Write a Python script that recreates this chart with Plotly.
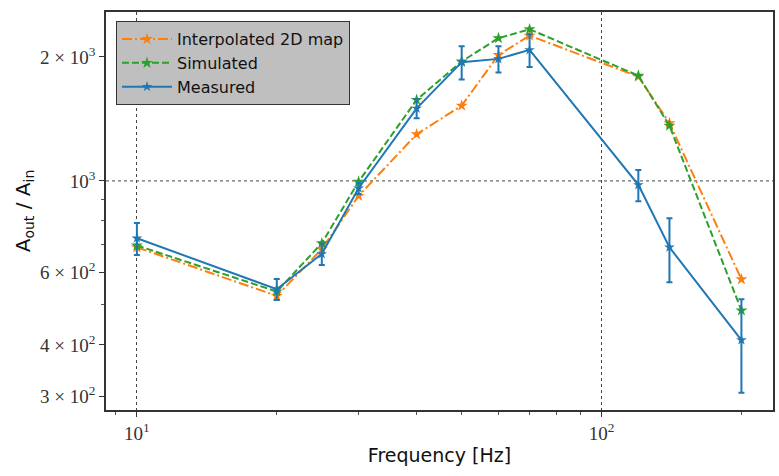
import plotly.graph_objects as go

freq = [10, 20, 25, 30, 40, 50, 60, 70, 120, 140, 200]
measured = [726, 546, 665, 960, 1500, 1942, 1978, 2080, 978, 690, 411]
measured_err = [65, 32, 40, 30, 80, 180, 145, 190, 85, 122, 105]
simulated = [697, 539, 706, 996, 1573, 1950, 2221, 2334, 1801, 1362, 485]
interpolated = [690, 526, 683, 920, 1298, 1523, 2021, 2252, 1791, 1381, 577]

x_major = [10, 100]
x_major_text = ["10<sup>1</sup>", "10<sup>2</sup>"]
x_minor = [9, 20, 30, 40, 50, 60, 70, 80, 90, 200]
y_major = [300, 400, 600, 1000, 2000]
y_major_text = ["3 × 10<sup>2</sup>", "4 × 10<sup>2</sup>", "6 × 10<sup>2</sup>",
                "10<sup>3</sup>", "2 × 10<sup>3</sup>"]
y_minor = [500, 700, 800, 900]
y_grid = [1000]

BLUE, ORANGE, GREEN = "#1f77b4", "#ff7f0e", "#2ca02c"

fig = go.Figure()
fig.add_trace(go.Scatter(x=freq, y=interpolated, name="Interpolated 2D map", mode="lines+markers",
                         line=dict(color=ORANGE, width=2, dash="10px,3px,2px,3px"),
                         marker=dict(symbol="star", size=9, color=ORANGE)))
fig.add_trace(go.Scatter(x=freq, y=simulated, name="Simulated", mode="lines+markers",
                         line=dict(color=GREEN, width=2, dash="7px,3px"),
                         marker=dict(symbol="star", size=9, color=GREEN)))
fig.add_trace(go.Scatter(x=freq, y=measured, name="Measured", mode="lines+markers",
                         line=dict(color=BLUE, width=2),
                         marker=dict(symbol="star", size=8, color=BLUE),
                         error_y=dict(type="data", array=measured_err, color=BLUE,
                                      thickness=2, width=3)))

for gv in y_grid:
    fig.add_shape(type="line", xref="paper", x0=0, x1=1, yref="y", y0=gv, y1=gv,
                  line=dict(color="#444", width=1, dash="dot"), layer="below")

tickfont = dict(family="Liberation Serif, DejaVu Serif, serif", size=19, color="#333")
fig.update_xaxes(type="log", range=[0.9335, 2.369],
                 tickvals=x_major, ticktext=x_major_text, tickfont=tickfont,
                 ticks="outside", ticklen=5, tickcolor="#333",
                 showgrid=True, gridcolor="#444", griddash="dot", gridwidth=1,
                 minor=dict(tickvals=x_minor, ticks="outside", ticklen=3, tickcolor="#555", showgrid=False),
                 showline=True, linecolor="#333", linewidth=1.5, mirror=True, zeroline=False,
                 title=dict(text="Frequency [Hz]", font=dict(family="DejaVu Sans", size=19, color="#111"), standoff=6))
fig.update_yaxes(type="log", range=[2.444, 3.410],
                 tickvals=y_major, ticktext=y_major_text, tickfont=tickfont,
                 ticks="outside", ticklen=5, tickcolor="#333", showgrid=False,
                 minor=dict(tickvals=y_minor, ticks="outside", ticklen=3, tickcolor="#555", showgrid=False),
                 showline=True, linecolor="#333", linewidth=1.5, mirror=True, zeroline=False,
                 title=dict(text="A<sub>out</sub> / A<sub>in</sub>", font=dict(family="DejaVu Sans", size=20, color="#111"), standoff=4))

fig.update_layout(width=779, height=476, margin=dict(l=106, r=4, t=12, b=66),
                  plot_bgcolor="white", paper_bgcolor="white",
                  showlegend=True,
                  legend=dict(x=0.015, y=0.977, xanchor="left", yanchor="top",
                              bgcolor="#bfbfbf", bordercolor="#333", borderwidth=1,
                              font=dict(family="DejaVu Sans", size=16, color="#111"),
                              itemwidth=50, tracegroupgap=0))

fig.write_html("out.html")
